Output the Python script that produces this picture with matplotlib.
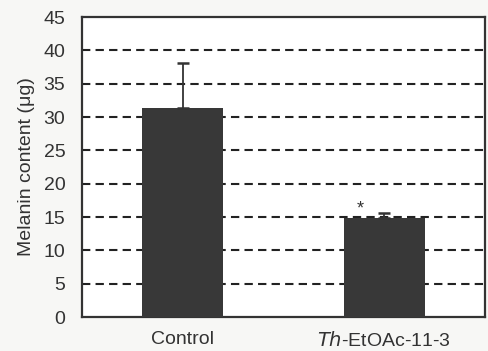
import matplotlib.pyplot as plt
from matplotlib import rcParams

# Data
groups = ["Control", "$\\it{Th}$-EtOAc-11-3"]
melanin = [31.3, 14.8]
errors = [6.8, 0.8]
signif = ["", "*"]

rcParams['font.family'] = ['Liberation Sans', 'DejaVu Sans']

fig = plt.figure(figsize=(4.89, 3.51), dpi=100)
fig.patch.set_facecolor('#f7f7f5')
ax = fig.add_axes([82/489, 34/351, 403/489, 300/351])
ax.set_facecolor('white')

x = list(range(len(groups)))
ax.bar(x, melanin, width=0.4, color='#383838', zorder=3)
ax.errorbar(x, melanin, yerr=[[0]*len(errors), errors], fmt='none',
            ecolor='#333333', elinewidth=1.3, capsize=4.5, capthick=1.8, zorder=4)
for xi, m, s in zip(x, melanin, signif):
    if s:
        ax.text(xi - 0.12, m + 0.1, s, ha='center', va='bottom', fontsize=13,
                color='#333333')

ax.set_xlim(-0.5, 1.5)
ax.set_ylim(0, 45)
ax.set_yticks(range(0, 46, 5))
for y in range(5, 45, 5):
    ax.axhline(y, color='#222222', linestyle=(0, (4, 2.5)), linewidth=1.5, zorder=1)

ax.set_xticks(x)
ax.set_xticklabels(groups, fontsize=14, color='#333333')
ax.tick_params(axis='x', length=0, pad=10)
ax.tick_params(axis='y', length=0, labelsize=14, pad=12, labelcolor='#333333')
for sp in ax.spines.values():
    sp.set_linewidth(1.6)
    sp.set_color('#333333')
ax.set_ylabel("Melanin content (\u03bcg)", fontsize=14, labelpad=6, color='#333333')

fig.savefig('out.png', dpi=100, facecolor=fig.get_facecolor())
